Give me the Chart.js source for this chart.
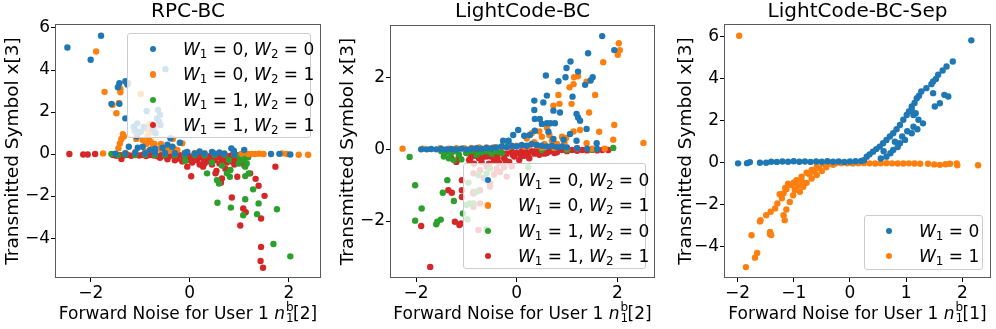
<!DOCTYPE html>
<html>
<head>
<meta charset="utf-8">
<script src="https://cdn.jsdelivr.net/npm/chart.js@4.4.0/dist/chart.umd.min.js"></script>
<style>
  body { margin: 0; background: #fff; font-family: 'DejaVu Sans', sans-serif; }
  #fig { position: relative; width: 996px; height: 329px; overflow: hidden; }
  .panel { position: absolute; top: 0; height: 329px; }
  .xlabel { position: absolute; top: 302px; font-size: 17px; line-height: 22px; white-space: nowrap; transform: translateX(-50%); color: #000; }
  .ss { position: relative; display: inline-block; width: 8px; height: 1px; }
  .ss span { position: absolute; left: 1px; font-size: 12px; line-height: 12px; }
  .ss .sp { top: -17px; }
  .ss .sb { top: -6px; }
  .legend { position: absolute; background: rgba(255,255,255,0.8); border: 1px solid #ccc; border-radius: 3px; box-sizing: border-box; }
  .legend .row { position: absolute; height: 24px; line-height: 24px; font-size: 17px; white-space: nowrap; color: #000; }
  .legend .dot { position: absolute; width: 6.4px; height: 6.4px; border-radius: 50%; }
  .legend sub { font-size: 0.7em; vertical-align: -0.25em; line-height: 0; }
</style>
</head>
<body>
<div id="fig"></div>
<script>
// colores tab10
const colors = ['#1f77b4', '#ff7f0e', '#2ca02c', '#d62728'];

// ---- RPC-BC: [ruido, simbolo] ----
const rpcW00 = [
  [-2.47,5.07],[-1.79,5.63],[-2.0,4.49],[-1.42,3.37],[-1.45,3.18],[-1.3,3.47],[-1.26,3.31],
  [-1.58,2.39],[-1.42,2.39],[-1.3,1.7],[-0.49,4.04],
  [-0.87,2.05],[-0.64,2.1],[-0.6,1.86],[-0.66,1.7],[-0.59,1.38],[-1.13,1.3],[-1.06,1.46],[-0.99,1.06],
  [-1.07,0.83],[-0.69,0.99],[-0.93,1.3],[-0.62,1.55],[-1.1,1.15],[-0.75,1.2],
  [-1.23,0.35],[-1.05,0.3],[-0.95,0.35],[-0.8,0.2],[-0.7,0.25],[-0.55,0.3],[-0.39,0.75],[-0.2,0.54],[-0.35,0.35],
  [-0.45,0.45],[-0.05,0.1],[0.2,0.12],[0.45,0.1],[0.84,0.27],[0.89,0.16],[1.1,0.2],[0.6,0.08],
  [-1.5,0.02],[-1.3,0.03],[-1.1,0.05],[-0.9,0.04],[-0.7,0.06],[-0.5,0.05],[-0.3,0.04],[-0.1,0.03],
  [0.1,0.02],[0.3,0.02],[0.5,0.01],[0.7,0.02],[0.9,0.0],[1.64,0.0],[1.81,0.01],[2.03,-0.02]
];
const rpcW01 = [
  [-1.89,4.88],[-1.72,2.96],[-1.56,2.34],[-1.4,2.94],[-1.4,3.1],[-1.48,1.94],[-1.43,2.43],[-1.24,3.39],[-0.99,2.86],
  [-1.35,0.95],[-1.38,0.72],[-1.41,0.5],[-1.44,0.28],[-1.33,0.84],
  [-1.11,1.08],[-1.05,0.95],[-1.08,0.72],[-0.95,0.67],[-0.85,0.87],[-0.78,1.04],[-0.71,1.27],[-0.81,1.43],[-0.88,1.19],
  [-0.88,0.48],[-0.78,0.56],[-0.71,0.48],[-0.58,0.48],[-0.34,0.72],[-0.44,0.32],[-0.38,0.16],[-0.75,0.3],
  [-0.6,0.25],[-0.25,0.2],[-0.15,0.51],[-0.32,0.27],[-0.82,0.7],
  [-1.75,0.03],[-1.3,0.05],[-1.1,0.1],[-0.9,0.12],[-0.7,0.1],[-0.5,0.08],[-0.3,0.07],[-0.1,0.06],[0.1,0.05],
  [0.3,0.04],[0.5,0.03],[0.7,0.03],[0.9,0.02],[1.05,0.02],
  [1.18,0.0],[1.25,0.01],[1.32,0.0],[1.4,0.02],[1.49,0.0],[1.86,0.03],[1.96,0.0],[2.2,-0.03],[2.39,-0.03]
];
const rpcW10 = [
  [-1.58,0.0],[-1.45,-0.04],[-1.3,-0.02],[-1.1,-0.03],[-0.9,-0.02],[-0.7,-0.04],[-0.5,-0.03],[-0.3,-0.05],
  [-0.1,-0.04],[0.1,-0.05],[0.3,-0.06],[0.5,-0.05],[0.7,-0.03],[0.9,-0.02],[1.05,-0.03],[1.15,-0.02],
  [-0.09,-0.32],[0.35,-0.92],[0.55,-1.24],[0.59,-1.4],[0.81,-1.08],[0.75,-0.92],[1.12,-1.05],[1.28,-1.68],
  [1.39,-2.35],[1.12,-2.15],[0.83,-2.55],[0.56,-2.32],[1.36,-2.86],[1.08,-2.91],[1.76,-2.63],[1.69,-4.28],
  [2.03,-4.87],[1.12,-0.6],[0.99,-0.45],[1.15,-0.45],[0.79,-0.28],[0.82,-0.76],[0.97,-0.05],[1.06,-0.1],
  [1.19,-0.92],[0.65,-0.55],[0.45,-0.4],[1.1,-0.25],[1.18,-0.15],[1.02,-0.3]
];
const rpcW11 = [
  [-2.43,0.0],[-2.15,-0.02],[-2.06,-0.02],[-1.91,0.0],[-0.77,1.43],
  [-1.55,-0.05],[-1.48,-0.08],[-1.4,-0.05],[-1.38,-0.24],[-1.32,-0.06],[-1.25,-0.04],[-1.18,-0.08],[-1.1,-0.05],
  [-1.02,-0.07],[-0.95,-0.04],[-0.88,-0.09],[-0.8,-0.05],[-0.72,-0.07],[-0.65,-0.1],[-0.58,-0.05],[-0.5,-0.08],
  [-0.42,-0.12],[-0.35,-0.06],[-0.28,-0.1],[-0.2,-0.05],[-0.12,-0.14],[-0.05,-0.08],[0.02,-0.12],[0.1,-0.06],
  [0.18,-0.15],[0.25,-0.08],[0.32,-0.18],[0.4,-0.1],[0.48,-0.05],[0.55,-0.15],[0.62,-0.08],[0.7,-0.2],
  [0.78,-0.1],[0.85,-0.05],[0.92,-0.15],[1.0,-0.05],[1.08,-0.1],[1.15,-0.02],
  [-0.05,-0.6],[0.03,-1.06],[0.27,-0.6],[0.52,-0.92],[0.54,-0.8],[0.65,-1.16],[0.63,-1.37],[0.72,-0.7],
  [0.96,-1.08],[1.1,-0.53],[1.22,-0.92],[1.33,-1.18],[1.39,-1.51],[1.51,-1.99],[0.85,-2.07],[1.08,-2.59],
  [1.13,-2.77],[1.44,-3.07],[1.02,-3.4],[1.44,-4.42],[1.43,-5.09],[1.48,-5.41],[1.73,-0.6],
  [-0.3,-0.3],[-0.15,-0.35],[0.05,-0.4],[0.15,-0.3],[0.35,-0.35],[0.45,-0.5],[0.6,-0.45],[0.75,-0.4],
  [0.85,-0.35],[0.95,-0.3],[0.2,-0.5],[0.4,-0.25],[-0.45,-0.25],[0.1,-0.22],[0.65,-0.28],
  [-0.6,-0.18],[-0.25,-0.22],[0.0,-0.28],[0.28,-0.25],[0.5,-0.3],[0.8,-0.22],[0.9,-0.5],[0.3,-0.45]
];

// ---- LightCode-BC ----
const lcW00 = [
  [1.70,3.16],[1.94,2.77],[1.42,2.68],[1.07,2.45],[0.99,2.27],[1.22,2.17],[0.58,2.06],[0.97,2.01],[0.83,1.9],
  [1.51,2.01],[1.47,1.92],[1.36,1.8],[0.6,1.5],[1.11,1.47],[0.35,1.36],[0.53,1.31],[0.73,1.08],[0.86,1.03],
  [1.19,0.99],[0.35,1.1],[0.36,0.85],[0.46,0.85],[0.5,0.71],[0.6,0.73],[0.67,0.73],[0.76,0.73],[1.22,0.89],
  [1.26,0.8],[1.39,0.57],[0.36,0.52],[0.26,0.4],[0.15,0.38],[0.63,0.49],[0.73,0.29],[1.06,0.43],[1.19,0.24],
  [0.93,0.27],[0.03,0.54],[-0.27,0.24],[-0.07,0.4],[-0.16,0.24],[1.59,0.17],[-0.61,-0.84],
  [-1.9,0.0],[-1.79,0.0],[-1.7,0.01],[-1.6,0.0],[-1.5,0.01],[-1.4,0.0],[-1.3,0.01],[-1.2,0.0],[-1.1,0.02],
  [-1.0,0.0],[-0.9,0.02],[-0.8,0.03],[-0.7,0.02],[-0.6,0.04],[-0.5,0.03],[-0.4,0.05],[-0.3,0.08],[-0.2,0.06],
  [-0.1,0.1],[0.0,0.08],[0.1,0.12],[0.2,0.1],[0.3,0.15],[0.4,0.12],[0.5,0.1],[0.6,0.08],[0.7,0.1],[0.8,0.06],
  [0.9,0.08],[1.0,0.05],[1.2,0.03],[1.4,0.02],[1.6,0.01]
];
const lcW01 = [
  [2.03,2.96],[2.05,2.77],[2.01,2.64],[1.72,2.43],[1.14,2.01],[1.22,2.04],[1.13,1.82],[1.05,1.73],[1.39,1.89],
  [1.56,1.52],[0.83,1.52],[0.73,1.22],[0.85,1.27],[1.09,1.27],[1.44,1.03],[1.94,0.68],[1.64,0.49],[1.26,0.54],
  [1.13,0.5],[1.92,0.27],[1.39,0.17],[2.52,0.18],
  [0.2,0.3],[0.3,0.45],[0.35,0.2],[0.45,0.5],[0.5,0.35],[0.55,0.15],[0.6,0.6],[0.65,0.4],[0.7,0.25],[0.8,0.15],
  [0.9,0.35],[0.25,0.1],[0.4,0.1],[0.95,0.2],[0.98,0.32],
  [-2.27,0.02],[-1.87,0.02],[-1.52,0.03],[-1.35,0.02],[-1.2,0.03],[-1.05,0.03],[-0.9,0.04],[-0.75,0.05],
  [-0.6,0.05],[-0.45,0.06],[-0.3,0.08],[-0.15,0.07],[0.0,0.1],[0.15,0.08],[0.5,0.05],[0.75,0.04],[1.0,0.03],
  [1.2,0.03],[1.5,0.02],[1.75,0.02],[-0.6,-1.56]
];
const lcW10 = [
  [-2.13,-0.21],[-2.02,-1.0],[-2.02,-1.99],[-1.89,-1.65],[-1.6,-2.09],[-1.58,-2.02],[-1.51,-1.96],[-1.47,-1.21],
  [-1.38,-0.86],[-1.25,-1.44],[-1.07,-1.79],[-0.6,-2.23],[0.23,-0.5],[1.92,0.04],
  [-0.96,-0.93],[-0.94,-1.51],[-1.0,-1.55],[-0.98,-1.95],[-0.76,-0.72],[-0.6,-0.67],[-0.53,-0.53],[-0.8,-1.18],[-0.86,-1.51],
  [-1.5,-0.05],[-1.45,-0.2],[-1.4,-0.08],[-1.35,-0.25],[-1.3,-0.1],[-1.25,-0.3],[-1.2,-0.05],[-1.15,-0.15],
  [-1.1,-0.28],[-1.0,-0.1],[-0.9,-0.05],[-0.8,-0.15],[-0.7,-0.08],[-0.6,-0.05],[-0.5,-0.12],[-0.4,-0.06],
  [-0.3,-0.1],[-0.17,0.12],[0.5,-0.02],[1.0,-0.02],[1.5,-0.01]
];
const lcW11 = [
  [-1.72,-3.28],[-1.9,-2.14],[-1.36,-1.14],[-1.29,-1.21],[-1.23,-2.02],[-1.14,-2.11],[-1.11,-2.07],[-1.09,-0.86],
  [-1.09,-1.14],[-1.09,-1.33],[-1.3,-0.25],[-1.2,-0.35],[-1.15,-0.2],
  [-0.76,-2.25],[-0.86,-1.6],[-0.73,-1.51],[-0.86,-1.19],[-0.73,-1.14],[-0.53,-0.95],[-0.6,-0.48],[-0.33,-0.63],
  [-0.2,-0.76],[-0.1,-0.48],[-0.53,-1.04],[-0.86,-0.67],[-0.73,-0.58],[-0.86,-1.23],[-0.45,-0.7],[-0.4,-0.55],
  [-0.25,-0.5],[-0.65,-0.8],
  [-1.0,-0.1],[-0.95,-0.3],[-0.9,-0.15],[-0.85,-0.4],[-0.8,-0.05],[-0.75,-0.25],[-0.7,-0.35],[-0.65,-0.1],
  [-0.6,-0.2],[-0.55,-0.4],[-0.5,-0.05],[-0.45,-0.3],[-0.4,-0.15],[-0.35,-0.38],[-0.3,-0.08],[-0.25,-0.25],
  [-0.2,-0.12],[-0.15,-0.35],[-0.1,-0.05],[-0.05,-0.2],[0.0,-0.1],[0.05,-0.3],[0.1,-0.05],[0.15,-0.18],
  [0.2,-0.08],[0.25,-0.25],[0.3,-0.05],[0.35,-0.12],[0.4,-0.03],[0.45,-0.15],[0.5,-0.05],[0.6,-0.1],
  [0.7,-0.03],[0.8,-0.08],[0.9,-0.02],[1.0,-0.05],[1.1,-0.02],[1.2,-0.04],[1.3,-0.02],[1.4,-0.03],
  [1.5,-0.01],[1.6,-0.03],[1.7,-0.02],[1.82,-0.02],
  [-0.92,-0.25],[-0.82,-0.18],[-0.68,-0.22],[-0.52,-0.2],[-0.38,-0.25],[-0.22,-0.32],[-0.08,-0.15],[0.08,-0.2],
  [0.22,-0.15],[0.55,-0.12],[0.65,-0.06],[0.75,-0.1]
];

// ---- LightCode-BC-Sep ----
const sepW0 = [
  [-1.99,-0.03],[-1.83,-0.02],[-1.78,0.03],[-1.6,0.0],[-1.49,0.0],
  [-1.4,0.05],[-1.3,0.04],[-1.2,0.06],[-1.1,0.05],[-1.0,0.07],[-0.9,0.05],[-0.8,0.06],[-0.7,0.04],[-0.6,0.06],
  [-0.5,0.05],[-0.4,0.07],[-0.3,0.05],[-0.2,0.06],[-0.1,0.04],[0.0,0.06],[0.1,0.07],[0.2,0.08],[0.25,0.12],
  [0.3,0.29],[0.41,0.53],[0.53,0.77],[0.65,1.09],[0.77,1.41],[0.89,1.8],[1.01,2.28],[1.1,2.68],[1.19,3.08],
  [1.27,3.4],[1.36,3.56],[1.48,3.88],[1.57,4.2],[1.72,4.59],[1.83,4.83],[2.16,5.84],
  [0.35,0.4],[0.47,0.65],[0.59,0.93],[0.71,1.25],[0.83,1.6],[0.95,2.05],[1.05,2.45],[1.15,2.85],[1.23,3.2],
  [1.45,3.75],[1.53,4.0],[1.65,4.4],
  [0.65,0.29],[0.77,0.61],[0.89,0.93],[0.98,1.09],[1.1,1.41],[1.13,1.72],[1.3,1.88],[1.13,2.28],[1.1,2.52],
  [1.17,2.36],[1.51,2.68],[1.6,2.84],[1.68,3.24],[1.75,3.16],[1.48,3.32],[0.55,0.2],[0.72,0.45],[0.85,0.75],
  [0.93,1.25],[1.02,1.5],[1.2,1.6],[1.22,2.05],[0.6,0.55],[0.8,1.0]
];
const sepW1 = [
  [-1.97,6.06],[-1.85,-4.98],[-1.69,-4.53],[-1.65,-4.31],[-1.75,-3.46],[-1.42,-3.3],[-1.42,-3.41],[-1.4,-3.45],
  [-1.59,-2.74],[-1.6,-2.8],[-1.49,-2.5],[-1.41,-2.34],[-1.33,-2.18],[-1.29,-1.94],[-1.21,-1.7],[-1.18,-1.46],
  [-1.13,-1.27],[-1.04,-1.07],[-0.95,-0.83],[-0.86,-0.67],[-0.77,-0.48],[-0.68,-0.35],[-0.59,-0.19],[-0.47,-0.06],
  [-0.36,-0.04],
  [-1.16,-2.74],[-1.18,-2.5],[-1.13,-2.23],[-1.07,-1.87],[-1.01,-1.55],[-0.89,-1.39],[-0.83,-1.15],[-0.77,-0.96],
  [-0.68,-0.75],[-0.59,-0.59],[-0.5,-0.4],[-0.42,-0.22],[-0.3,-0.1],
  [-1.25,-1.5],[-1.15,-1.2],[-1.0,-0.95],[-0.92,-1.1],[-0.85,-0.9],[-0.72,-0.55],[-0.63,-0.42],[-0.55,-0.25],
  [-1.1,-1.0],[-0.98,-1.3],
  [-0.25,-0.03],[-0.15,-0.02],[-0.05,-0.03],[0.05,-0.04],[0.15,-0.03],[0.25,-0.02],[0.35,-0.03],[0.45,-0.04],
  [0.55,-0.03],[0.65,-0.02],[0.75,-0.03],[0.85,-0.04],[0.95,-0.04],[1.05,-0.03],[1.15,-0.04],[1.25,-0.05],
  [1.39,-0.05],[1.5,-0.08],[1.6,-0.1],[1.7,-0.07],[1.78,-0.05],[1.91,-0.12],[1.9,-0.03],[2.28,-0.12]
];

// ---- ticks y leyendas ----
const rpcXTicks = [-2, 0, 2];
const rpcYTicks = [-4, -2, 0, 2, 4, 6];
const lcXTicks = [-2, 0, 2];
const lcYTicks = [-2, 0, 2];
const sepXTicks = [-2, -1, 0, 1, 2];
const sepYTicks = [-4, -2, 0, 2, 4, 6];
const bcLegend = [[0, 0], [0, 1], [1, 0], [1, 1]];
const sepLegend = [[0], [1]];

Chart.defaults.font.family = "'DejaVu Sans', sans-serif";
Chart.defaults.color = '#000';

// marco gris alrededor del area de datos
const framePlugin = {
  id: 'frame',
  afterDraw(chart) {
    const { ctx, chartArea: a } = chart;
    ctx.save();
    ctx.strokeStyle = '#5a5a5a';
    ctx.lineWidth = 1;
    ctx.strokeRect(Math.round(a.left) + 0.5, Math.round(a.top) + 0.5,
      Math.round(a.right - a.left) - 1, Math.round(a.bottom - a.top) - 1);
    ctx.restore();
  }
};

const fmt = v => String(v).replace('-', '\u2212');

function makePanel(p) {
  const fig = document.getElementById('fig');
  const div = document.createElement('div');
  div.className = 'panel';
  div.style.left = p.left + 'px';
  div.style.width = p.width + 'px';
  const canvas = document.createElement('canvas');
  canvas.width = p.width;
  canvas.height = 329;
  div.appendChild(canvas);
  fig.appendChild(div);

  const chart = new Chart(canvas, {
    type: 'scatter',
    data: {
      datasets: p.series.map((pts, i) => ({
        data: pts.map(q => ({ x: q[0], y: q[1] })),
        backgroundColor: colors[i],
        borderColor: colors[i],
        borderWidth: 0,
        pointRadius: 3.2,
        pointHoverRadius: 3.2
      }))
    },
    options: {
      responsive: false,
      animation: false,
      events: [],
      layout: { padding: { left: 0, right: p.padRight, top: 0, bottom: 0 } },
      plugins: {
        legend: { display: false },
        tooltip: { enabled: false },
        title: {
          display: true, text: p.title, fullSize: false,
          font: { size: 20, weight: 'normal' },
          padding: { top: 0, bottom: p.titlePad }
        }
      },
      scales: {
        x: {
          type: 'linear', min: p.xMin, max: p.xMax,
          afterBuildTicks: s => { s.ticks = p.xTicks.map(v => ({ value: v })); },
          afterFit: s => { s.height = 51; },
          ticks: { callback: fmt, font: { size: 17 }, padding: 1, maxRotation: 0 },
          grid: { drawOnChartArea: false, drawTicks: true, tickLength: 4, tickColor: '#000' },
          border: { display: false }
        },
        y: {
          type: 'linear', min: p.yMin, max: p.yMax,
          afterBuildTicks: s => { s.ticks = p.yTicks.map(v => ({ value: v })); },
          afterFit: s => { s.width = p.yAxisW; },
          ticks: { callback: fmt, font: { size: 17 }, padding: 1 },
          grid: { drawOnChartArea: false, drawTicks: true, tickLength: 4, tickColor: '#000' },
          border: { display: false },
          title: { display: true, text: 'Transmitted Symbol x[3]', font: { size: 18.5 }, padding: { top: p.ylabelPad, bottom: 0 } }
        }
      }
    },
    plugins: [framePlugin]
  });

  // etiqueta del eje x (con subindice y superindice apilados)
  const a = chart.chartArea;
  const xl = document.createElement('div');
  xl.className = 'xlabel';
  xl.style.left = (p.left + (a.left + a.right) / 2) + 'px';
  xl.innerHTML = 'Forward Noise for User 1 <i>n</i><span class="ss"><span class="sp">b</span><span class="sb">1</span></span>[' + p.slot + ']';
  fig.appendChild(xl);

  // leyenda semitransparente dentro del area
  const lg = document.createElement('div');
  lg.className = 'legend';
  Object.assign(lg.style, { left: p.leg.x + 'px', top: p.leg.y + 'px', width: p.leg.w + 'px', height: p.leg.h + 'px' });
  p.legend.forEach((vals, i) => {
    const cy = p.leg.row0 + i * p.leg.step;
    const dot = document.createElement('div');
    dot.className = 'dot';
    dot.style.background = colors[i];
    dot.style.left = (p.leg.dotX - 3.2) + 'px';
    dot.style.top = (cy - 3.2) + 'px';
    lg.appendChild(dot);
    const row = document.createElement('div');
    row.className = 'row';
    row.style.left = p.leg.textX + 'px';
    row.style.top = (cy - 12) + 'px';
    row.innerHTML = vals.map((v, k) => '<i>W</i><sub>' + (k + 1) + '</sub> = ' + v).join(', ');
    lg.appendChild(row);
  });
  fig.appendChild(lg);
}

makePanel({
  left: 0, width: 330, padRight: 9, yAxisW: 55, titlePad: 0, ylabelPad: 2, slot: 2,
  title: 'RPC-BC', xMin: -2.72, xMax: 2.65, yMin: -5.9, yMax: 6.19,
  xTicks: rpcXTicks, yTicks: rpcYTicks, series: [rpcW00, rpcW01, rpcW10, rpcW11],
  legend: bcLegend,
  leg: { x: 127, y: 33, w: 184, h: 105, row0: 15, step: 25.4, dotX: 24.7, textX: 55 }
});
makePanel({
  left: 330, width: 330, padRight: 5, yAxisW: 60, titlePad: 1, ylabelPad: 7, slot: 2,
  title: 'LightCode-BC', xMin: -2.52, xMax: 2.75, yMin: -3.59, yMax: 3.47,
  xTicks: lcXTicks, yTicks: lcYTicks, series: [lcW00, lcW01, lcW10, lcW11],
  legend: bcLegend,
  leg: { x: 463, y: 163, w: 183, h: 106, row0: 16, step: 25.4, dotX: 23.7, textX: 54 }
});
makePanel({
  left: 660, width: 336, padRight: 5, yAxisW: 64, titlePad: 0, ylabelPad: 15, slot: 1,
  title: 'LightCode-BC-Sep', xMin: -2.24, xMax: 2.51, yMin: -5.5, yMax: 6.62,
  xTicks: sepXTicks, yTicks: sepYTicks, series: [sepW0, sepW1],
  legend: sepLegend,
  leg: { x: 864, y: 215, w: 119, h: 55, row0: 15, step: 25, dotX: 23.7, textX: 54 }
});
</script>
</body>
</html>
